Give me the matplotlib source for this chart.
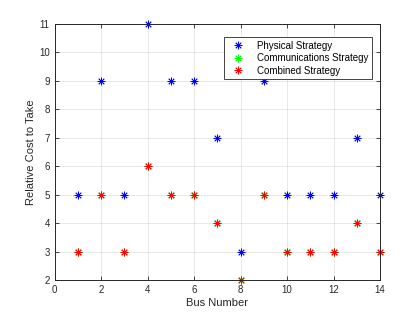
import matplotlib
matplotlib.use("Agg")
import matplotlib.pyplot as plt

bus = [1, 2, 3, 4, 5, 6, 7, 8, 9, 10, 11, 12, 13, 14]
physical = [5, 9, 5, 11, 9, 9, 7, 3, 9, 5, 5, 5, 7, 5]
communications = [3, 5, 3, 6, 5, 5, 4, 2, 5, 3, 3, 3, 4, 3]
combined = [3, 5, 3, 6, 5, 5, 4, 2, 5, 3, 3, 3, 4, 3]
xticks = [0, 2, 4, 6, 8, 10, 12, 14]
yticks = [2, 3, 4, 5, 6, 7, 8, 9, 10, 11]

plt.rcParams['font.family'] = ['Liberation Sans', 'DejaVu Sans']
fig = plt.figure(figsize=(4.2, 3.15), dpi=100)
ax = fig.add_axes([0.13, 0.11, 0.775, 0.815])

mk = (8, 2, 0)
ms = 5.5
mew = 0.6
ax.plot(bus, physical, ls='none', marker=mk, color=(0, 0, 1), ms=ms, mew=mew, label='Physical Strategy', clip_on=False)
ax.plot(bus, communications, ls='none', marker=mk, color=(0, 1, 0), ms=ms, mew=mew, label='Communications Strategy', clip_on=False)
ax.plot(bus, combined, ls='none', marker=mk, color=(1, 0, 0), ms=ms, mew=mew, label='Combined Strategy', clip_on=False)

ax.set_xlim(0, 14)
ax.set_ylim(2, 11)
ax.set_xticks(xticks)
ax.set_yticks(yticks)
ax.grid(True, color=(0.15, 0.15, 0.15), alpha=0.12, lw=0.6)
ax.set_axisbelow(True)
ax.tick_params(direction='in', top=True, right=True, labelsize=7, colors=(0.15, 0.15, 0.15), length=3, width=0.6)
for s in ax.spines.values():
    s.set_color((0.15, 0.15, 0.15))
    s.set_linewidth(0.7)
ax.set_xlabel('Bus Number', fontsize=8, color=(0.15, 0.15, 0.15), labelpad=2)
ax.set_ylabel('Relative Cost to Take', fontsize=8, color=(0.15, 0.15, 0.15), labelpad=2)

leg = ax.legend(loc='upper right', bbox_to_anchor=(0.99, 0.965), fontsize=7, fancybox=False,
                framealpha=1, edgecolor=(0.15, 0.15, 0.15), handlelength=2.2, handletextpad=0.9,
                borderpad=0.35, labelspacing=0.25)
leg.get_frame().set_linewidth(0.6)

fig.savefig('out.png', dpi=100)
